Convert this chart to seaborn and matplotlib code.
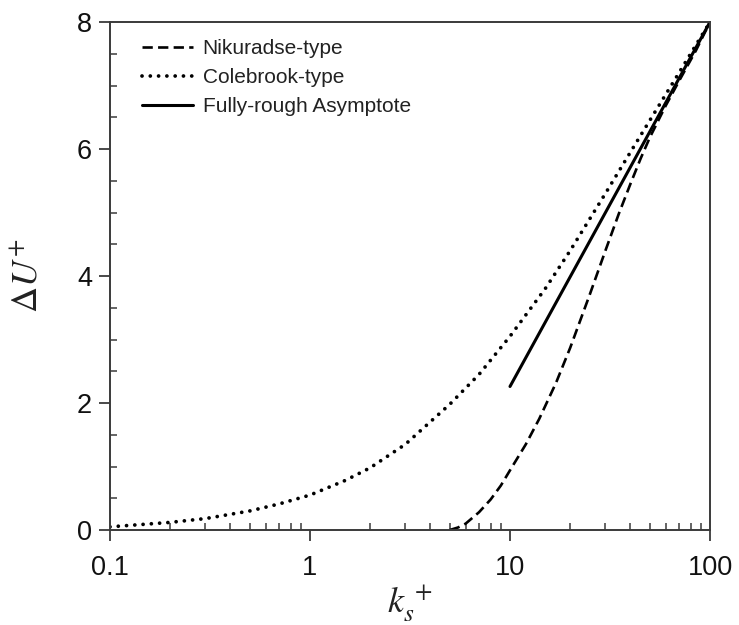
import matplotlib
matplotlib.use("Agg")
import matplotlib.pyplot as plt
import seaborn as sns
import pandas as pd
from matplotlib.ticker import FixedLocator, NullFormatter, MultipleLocator, LogLocator

# Data
colebrook_ks = [0.1, 0.2, 0.3, 0.5, 0.7, 1, 1.5, 2, 3, 5, 7, 10, 15, 20, 30, 40, 50, 70, 100]
colebrook_du = [0.05, 0.12, 0.18, 0.30, 0.41, 0.55, 0.78, 0.98, 1.35, 1.98, 2.45, 3.05, 3.80, 4.40, 5.30, 5.95, 6.45, 7.20, 8.00]

nikuradse_ks = [5, 5.5, 6, 7, 8, 9, 10, 12, 14, 17, 20, 25, 30, 35, 40, 45, 50, 60, 70, 85, 100]
nikuradse_du = [0.0, 0.04, 0.10, 0.28, 0.48, 0.70, 0.94, 1.35, 1.75, 2.32, 2.87, 3.70, 4.40, 4.98, 5.45, 5.85, 6.18, 6.68, 7.07, 7.55, 8.00]

asymptote_ks = [10, 100]
asymptote_du = [2.26, 8.00]

labels = ["Nikuradse-type", "Colebrook-type", "Fully-rough Asymptote"]

df_n = pd.DataFrame({"ks": nikuradse_ks, "du": nikuradse_du})
df_c = pd.DataFrame({"ks": colebrook_ks, "du": colebrook_du})
df_a = pd.DataFrame({"ks": asymptote_ks, "du": asymptote_du})

sns.set_theme(style="ticks")
plt.rcParams["font.family"] = ["Liberation Sans", "DejaVu Sans"]
plt.rcParams["mathtext.fontset"] = "stix"

fig = plt.figure(figsize=(7.39, 6.25), dpi=100)
ax = fig.add_axes([110/739, 1-530/625, 600/739, 508/625])

sns.lineplot(data=df_n, x="ks", y="du", ax=ax, color="black", lw=1.9,
             label=labels[0], sort=False)
ax.lines[-1].set_dashes((3.9, 2.0))
sns.lineplot(data=df_c, x="ks", y="du", ax=ax, color="black", lw=2.7,
             label=labels[1], sort=False)
ax.lines[-1].set_dashes((0.01, 2.2))
ax.lines[-1].set_dash_capstyle("round")
sns.lineplot(data=df_a, x="ks", y="du", ax=ax, color="black", lw=2.2,
             label=labels[2], sort=False)

ax.set_xscale("log")
ax.set_xlim(0.1, 100)
ax.set_ylim(0, 8)

ax.xaxis.set_major_locator(FixedLocator([0.1, 1, 10, 100]))
ax.set_xticklabels(["0.1", "1", "10", "100"])
ax.xaxis.set_minor_locator(LogLocator(base=10, subs=range(2, 10)))
ax.xaxis.set_minor_formatter(NullFormatter())
ax.yaxis.set_major_locator(MultipleLocator(2))
ax.yaxis.set_minor_locator(MultipleLocator(0.5))

spine_col = "#3a3a3a"
for s in ax.spines.values():
    s.set_visible(True)
    s.set_linewidth(1.4)
    s.set_color(spine_col)

ax.tick_params(axis="both", which="major", direction="out", length=8, width=1.3,
               color=spine_col, labelsize=19.5, labelcolor="#111111", pad=5)
ax.tick_params(axis="both", which="minor", direction="in", length=5, width=1.1,
               color=spine_col)
ax.tick_params(axis="x", which="major", pad=10)

ax.set_xlabel(r"$k_s^{\,+}$", fontsize=26, color="#222222")
ax.set_ylabel(r"$\Delta U^{+}$", fontsize=26, color="#222222")
ax.xaxis.set_label_coords(0.5, -0.105)
ax.yaxis.set_label_coords(-0.108, 0.5)

leg = ax.legend(loc="upper left", frameon=False, fontsize=15, handlelength=2.45,
                handletextpad=0.45, labelspacing=0.48, borderaxespad=0.0,
                bbox_to_anchor=(0.04, 0.983))
for t in leg.get_texts():
    t.set_color("#222222")

fig.savefig("out.png", dpi=100, facecolor="white")
